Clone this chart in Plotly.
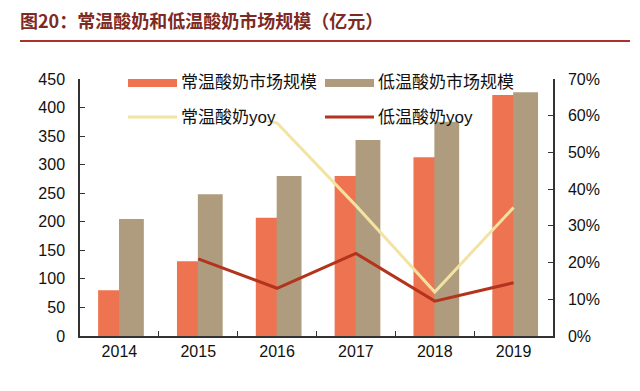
import plotly.graph_objects as go

years = ["2014", "2015", "2016", "2017", "2018", "2019"]
ambient_size = [80, 131, 207, 280, 313, 422]      # 常温酸奶市场规模
chilled_size = [205, 248, 280, 343, 375, 427]     # 低温酸奶市场规模
ambient_yoy = [None, 0.63, 0.58, 0.355, 0.12, 0.35]   # 常温酸奶yoy
chilled_yoy = [None, 0.21, 0.13, 0.225, 0.095, 0.145]  # 低温酸奶yoy

left_ticks = list(range(0, 451, 50))
right_ticks = [i / 10 for i in range(0, 8)]

C_ORANGE = "#EE7350"
C_TAN = "#AF9C7E"
C_YELLOW = "#F2E3A2"
C_RED = "#B3331C"
FONT = "Liberation Sans, Arial, Noto Sans CJK SC, sans-serif"

fig = go.Figure()
fig.add_trace(go.Bar(x=years, y=ambient_size, name="常温酸奶市场规模",
                     marker=dict(color=C_ORANGE, line=dict(width=0)),
                     width=0.3, offset=-0.27, showlegend=False))
fig.add_trace(go.Bar(x=years, y=chilled_size, name="低温酸奶市场规模",
                     marker=dict(color=C_TAN, line=dict(width=0)),
                     width=0.315, offset=-0.005, showlegend=False))
fig.add_trace(go.Scatter(x=years, y=ambient_yoy, name="常温酸奶yoy", yaxis="y2",
                         mode="lines", line=dict(color=C_YELLOW, width=3),
                         showlegend=False))
fig.add_trace(go.Scatter(x=years, y=chilled_yoy, name="低温酸奶yoy", yaxis="y2",
                         mode="lines", line=dict(color=C_RED, width=3),
                         showlegend=False))

# plot area in pixels: x 80..553, y 79..336
W, H = 640, 391
L, R, T, B = 80, 553, 79, 336
pw, ph = R - L, B - T


def px(x):
    return (x - L) / pw


def py(y):
    return (B - y) / ph


shapes = []
annotations = []
# legend white box
shapes.append(dict(type="rect", xref="paper", yref="paper", layer="above",
                   x0=px(125), x1=px(468), y0=py(121), y1=py(70),
                   fillcolor="white", line=dict(width=0)))
legend_items = [
    ("常温酸奶市场规模", C_ORANGE, "bar", 128, 83),
    ("低温酸奶市场规模", C_TAN, "bar", 325, 83),
    ("常温酸奶yoy", C_YELLOW, "line", 128, 117),
    ("低温酸奶yoy", C_RED, "line", 325, 117),
]
for name, col, kind, x0, yc in legend_items:
    if kind == "bar":
        shapes.append(dict(type="rect", xref="paper", yref="paper", layer="above",
                           x0=px(x0), x1=px(x0 + 49), y0=py(yc + 4), y1=py(yc - 4),
                           fillcolor=col, line=dict(width=0)))
    else:
        shapes.append(dict(type="line", xref="paper", yref="paper", layer="above",
                           x0=px(x0), x1=px(x0 + 49), y0=py(yc), y1=py(yc),
                           line=dict(color=col, width=3)))
    annotations.append(dict(text=name, xref="paper", yref="paper",
                            x=px(x0 + 51), y=py(yc), xanchor="left", yanchor="middle",
                            showarrow=False, font=dict(size=17, color="#111111", family=FONT)))

# title and its underline
annotations.append(dict(text="<b>图20：常温酸奶和低温酸奶市场规模（亿元）</b>",
                        xref="paper", yref="paper", x=px(18), y=py(20),
                        xanchor="left", yanchor="middle", showarrow=False,
                        font=dict(size=18, color="#7E2A24",
                                  family="Noto Sans CJK SC, sans-serif")))
shapes.append(dict(type="line", xref="paper", yref="paper",
                   x0=px(20), x1=px(630), y0=py(41), y1=py(41),
                   line=dict(color="#A8332A", width=2)))

fig.update_layout(
    width=W, height=H,
    margin=dict(l=L, r=W - R, t=T, b=H - B, pad=0),
    paper_bgcolor="white", plot_bgcolor="white",
    barmode="overlay",
    font=dict(family=FONT, size=16, color="#111111"),
    shapes=shapes, annotations=annotations,
    xaxis=dict(type="category", range=[-0.5, 5.5], showline=True, linecolor="#333333",
               linewidth=1.5, ticks="inside", tickson="boundaries", ticklen=5,
               tickcolor="#333333", showgrid=False, tickfont=dict(size=16)),
    yaxis=dict(range=[0, 450], tickvals=left_ticks, showline=True, linecolor="#333333",
               linewidth=1.5, ticks="inside", ticklen=5, tickcolor="#333333",
               showgrid=False, zeroline=False, tickfont=dict(size=16), ticklabelstandoff=10),
    yaxis2=dict(range=[0, 0.7], tickvals=right_ticks, tickformat=".0%", overlaying="y",
                side="right", showline=True, linecolor="#333333", linewidth=1.5,
                ticks="inside", ticklen=5, tickcolor="#333333", showgrid=False,
                zeroline=False, tickfont=dict(size=16), ticklabelstandoff=10),
)

fig.write_html("out.html", config={"displayModeBar": False},
               post_script="document.body.style.margin='0';document.body.style.padding='0';")
